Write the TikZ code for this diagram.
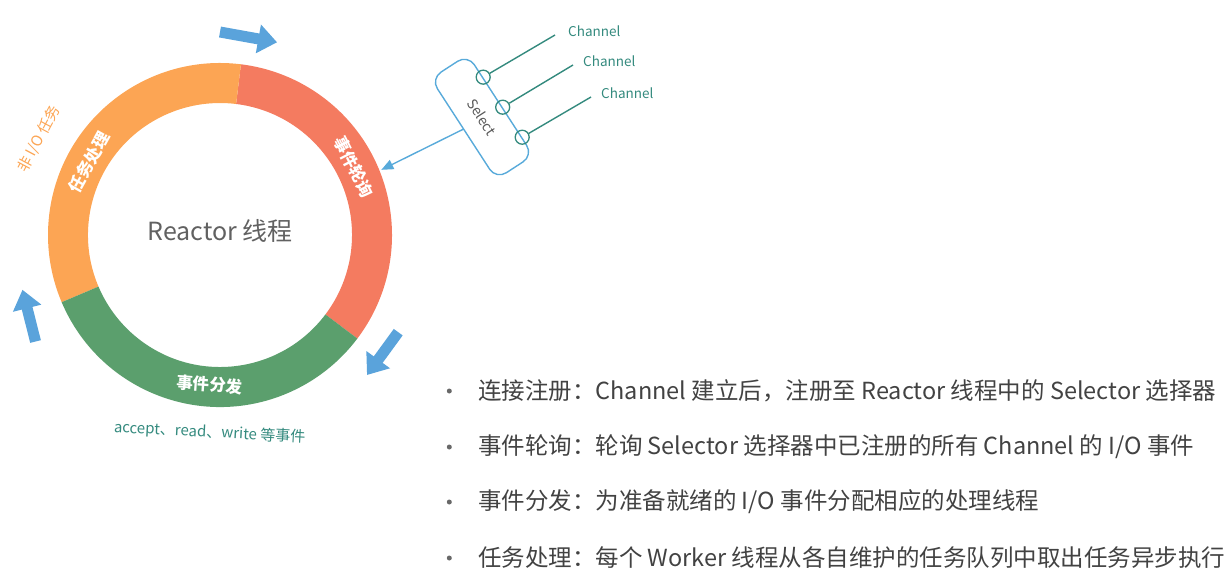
\documentclass[tikz,border=0pt]{standalone}
\usepackage{fontspec}
\setmainfont{Noto Sans CJK SC}
\usetikzlibrary{arrows.meta,calc,positioning}
\definecolor{ringorange}{RGB}{252,165,84}
\definecolor{ringred}{RGB}{244,123,96}
\definecolor{ringgreen}{RGB}{91,159,109}
\definecolor{flowblue}{RGB}{90,163,219}
\definecolor{selblue}{RGB}{88,170,218}
\definecolor{chanteal}{RGB}{52,138,126}
\definecolor{textgrey}{RGB}{66,66,66}

\begin{document}
\begin{tikzpicture}[x=1pt,y=1pt,
  ringlabel/.style={text=white, font=\bfseries\fontsize{16.5}{16.5}\selectfont, inner sep=0pt},
  flowarrow/.style={draw=flowblue, line width=11pt, -{Triangle[length=19pt,width=28pt]}},
  selbox/.style={draw=selblue, line width=1.4pt, rounded corners=12pt, text=black!65,
    font=\fontsize{14}{14}\selectfont, minimum width=120pt, minimum height=44pt},
  port/.style={circle, draw=chanteal, line width=1.3pt, minimum size=14pt, inner sep=0pt},
  chanlink/.style={draw=chanteal, line width=1.4pt},
  chanlabel/.style={text=chanteal, font=\fontsize{13.5}{13.5}\selectfont, inner sep=0pt, anchor=west},
  item/.style={text=textgrey, font=\fontsize{23.5}{23.5}\selectfont, inner sep=0pt, anchor=west},
  bullet/.style={circle, fill=textgrey!80, minimum size=5pt, inner sep=0pt}]
\useasboundingbox (0,0) rectangle (1228,-582);
\coordinate (c) at (220,-235);
\fill[ringred] ($(c)+(-37:172)$) arc[start angle=-37, end angle=83, radius=172]
  -- ($(c)+(83:132)$) arc[start angle=83, end angle=-37, radius=132] -- cycle;
\fill[ringorange] ($(c)+(83:172)$) arc[start angle=83, end angle=203, radius=172]
  -- ($(c)+(203:132)$) arc[start angle=203, end angle=83, radius=132] -- cycle;
\fill[ringgreen] ($(c)+(203:172)$) arc[start angle=203, end angle=323, radius=172]
  -- ($(c)+(323:132)$) arc[start angle=323, end angle=203, radius=132] -- cycle;
\node[text=black!62, font=\fontsize{25}{25}\selectfont] (reactor) at ($(c)+(0,4)$) {Reactor 线程};
\node[ringlabel, rotate=-63] (poll) at ($(c)+(27:150)$) {事件轮询};
\node[ringlabel, rotate=-4] (dispatch) at ($(c)+(-94:150)$) {事件分发};
\node[ringlabel, rotate=61] (task) at ($(c)+(151:150)$) {任务处理};
\node[text=ringorange, font=\fontsize{15}{15}\selectfont, rotate=62, inner sep=0pt] (nonio) at ($(c)+(152:205)$) {非 I/O 任务};
\node[text=chanteal, font=\fontsize{15}{15}\selectfont, rotate=-3, inner sep=0pt] (events) at ($(c)+(-93:198)$) {accept、read、write 等事件};
\draw[flowarrow] ($(c)+(90:203)$) -- ($(c)+(73.5:201)$);
\draw[flowarrow] ($(c)+(-28.6:203)$) -- ($(c)+(-43.6:203)$);
\draw[flowarrow] ($(c)+(210:213)$) -- ($(c)+(195.5:205)$);
\node[selbox, rotate=-57] (sel) at (482,-117) {Select};
\node[port] (p1) at ($(sel.north west)!0.23!(sel.north east)$) {};
\node[port] (p2) at ($(sel.north west)!0.525!(sel.north east)$) {};
\node[port] (p3) at ($(sel.north west)!0.82!(sel.north east)$) {};
\coordinate (e1) at (555,-35);
\coordinate (e2) at (573,-65);
\coordinate (e3) at (591,-97);
\draw[chanlink] (p1) -- (e1);
\draw[chanlink] (p2) -- (e2);
\draw[chanlink] (p3) -- (e3);
\node[chanlabel] (ch1) at (568,-31) {Channel};
\node[chanlabel] (ch2) at (583,-61) {Channel};
\node[chanlabel] (ch3) at (601,-93) {Channel};
\coordinate (hit) at ($(c)+(22:174)$);
\draw[selblue, line width=1.4pt, -{Triangle[length=12pt,width=10pt]}] (sel.south) -- (hit);
\node[item] (l1) at (478,-391) {连接注册：Channel 建立后，注册至 Reactor 线程中的 Selector 选择器};
\node[item] (l2) at (478,-447) {事件轮询：轮询 Selector 选择器中已注册的所有 Channel 的 I/O 事件};
\node[item] (l3) at (478,-502) {事件分发：为准备就绪的 I/O 事件分配相应的处理线程};
\node[item] (l4) at (478,-558) {任务处理：每个 Worker 线程从各自维护的任务队列中取出任务异步执行};
\node[bullet, left=26pt of l1] {};
\node[bullet, left=26pt of l2] {};
\node[bullet, left=26pt of l3] {};
\node[bullet, left=26pt of l4] {};
\end{tikzpicture}
\end{document}
